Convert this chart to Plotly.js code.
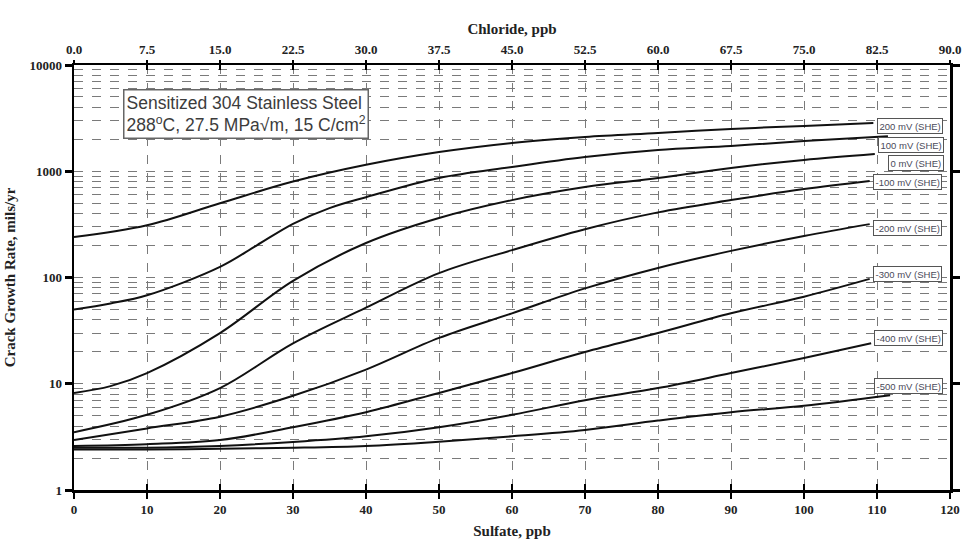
<!DOCTYPE html>
<html>
<head>
<meta charset="utf-8">
<script src="https://cdn.plot.ly/plotly-3.0.1.min.js"></script>
<style>html,body{margin:0;padding:0;background:#fff;}#chart{width:965px;height:545px;}</style>
</head>
<body>
<div id="chart"></div>
<script>
// Potentials (curve labels)
const potentials = ["200 mV (SHE)", "100 mV (SHE)", "0 mV (SHE)", "-100 mV (SHE)", "-200 mV (SHE)", "-300 mV (SHE)", "-400 mV (SHE)", "-500 mV (SHE)"];

// Sulfate (ppb) and crack growth rate (mils/yr) per curve
const sulfate_p200 = [0, 10, 20, 30, 40, 50, 60, 70, 80, 90, 100, 109.5];
const rate_p200    = [240, 310, 500, 800, 1150, 1515, 1845, 2100, 2290, 2500, 2670, 2845];

const sulfate_p100 = [0, 5, 10, 20, 25, 30, 35, 40, 50, 60, 70, 80, 90, 100, 111.5];
const rate_p100    = [50, 57, 68, 126, 200, 320, 450, 570, 864, 1097, 1360, 1585, 1730, 1927, 2140];

const sulfate_0    = [0, 5, 10, 20, 30, 40, 50, 60, 70, 80, 90, 100, 109.7];
const rate_0       = [8.2, 9.5, 12.6, 30, 93, 211, 363, 535, 710, 864, 1075, 1277, 1450];

const sulfate_m100 = [0, 10, 20, 30, 40, 50, 60, 70, 80, 90, 100, 109];
const rate_m100    = [3.5, 5.1, 9.1, 24, 52, 110, 181, 285, 410, 535, 680, 810];

const sulfate_m200 = [0, 10, 20, 30, 40, 50, 60, 70, 80, 90, 100, 109];
const rate_m200    = [2.95, 3.8, 4.9, 7.7, 13.6, 27, 46, 79, 123, 178, 246, 318];

const sulfate_m300 = [0, 10, 20, 30, 40, 50, 60, 70, 80, 90, 100, 109];
const rate_m300    = [2.6, 2.7, 2.95, 3.9, 5.4, 8.2, 12.6, 19.9, 30, 46, 66, 97];

const sulfate_m400 = [0, 10, 20, 30, 40, 50, 60, 70, 80, 90, 100, 109.2];
const rate_m400    = [2.5, 2.5, 2.6, 2.83, 3.2, 3.9, 5.1, 7.0, 9.1, 12.6, 17.5, 24];

const sulfate_m500 = [0, 10, 20, 30, 40, 50, 60, 70, 80, 90, 100, 111.8];
const rate_m500    = [2.4, 2.4, 2.45, 2.5, 2.6, 2.85, 3.2, 3.67, 4.5, 5.4, 6.2, 7.8];

// Axis ticks
const sulfateTicks = [0, 10, 20, 30, 40, 50, 60, 70, 80, 90, 100, 110, 120];
const chlorideTicks = [0, 7.5, 15, 22.5, 30, 37.5, 45, 52.5, 60, 67.5, 75, 82.5, 90];
const chlorideLabels = chlorideTicks.map(v => v.toFixed(1));
const rateTicks = [1, 10, 100, 1000, 10000];
const rateLabels = ["1", "10", "100", "1000", "10000"];
const rateMinor = [2,3,4,5,6,7,8,9,20,30,40,50,60,70,80,90,200,300,400,500,600,700,800,900,2000,3000,4000,5000,6000,7000,8000,9000];

const series = [
  [sulfate_p200, rate_p200], [sulfate_p100, rate_p100], [sulfate_0, rate_0], [sulfate_m100, rate_m100],
  [sulfate_m200, rate_m200], [sulfate_m300, rate_m300], [sulfate_m400, rate_m400], [sulfate_m500, rate_m500]
];

const traces = series.map((s, i) => ({
  x: s[0], y: s[1], type: 'scatter', mode: 'lines', name: potentials[i],
  line: {color: '#111', width: 2, shape: 'spline', smoothing: 1.0},
  xaxis: 'x', yaxis: 'y', showlegend: false, hoverinfo: 'skip'
}));
// invisible carriers so the overlay axes (top chloride axis, crossing ticks) get drawn
['x2', 'x3', 'x4'].forEach(ax => traces.push({
  x: [0], y: [1], type: 'scatter', mode: 'markers', marker: {opacity: 0, size: 1},
  xaxis: ax, yaxis: 'y', showlegend: false, hoverinfo: 'skip'
}));

// label box placement (x in sulfate units, y in log10 of rate)
const labelPos = [[114.5, 3.426], [114.7, 3.247], [115.3, 3.078], [114.2, 2.899], [114.2, 2.466], [114.2, 2.033], [114.3, 1.431], [114.3, 0.979]];

const serif = 'Liberation Serif, Times New Roman, serif';
const sans = 'Liberation Sans, Arial, sans-serif';
const gridC = '#7a7a7a';

const annotations = potentials.map((t, i) => ({
  x: labelPos[i][0], y: labelPos[i][1], xref: 'x', yref: 'y', text: t, showarrow: false,
  font: {family: sans, size: 9.5, color: '#4a4a5a'}, bgcolor: '#fff', bordercolor: '#555', borderwidth: 1, borderpad: 1.5,
  xanchor: 'center', yanchor: 'middle'
}));
annotations.push({
  x: 0.056, y: 0.944, xref: 'paper', yref: 'paper', xanchor: 'left', yanchor: 'top', showarrow: false, align: 'left',
  text: 'Sensitized 304 Stainless Steel<br>288<sup>o</sup>C, 27.5 MPa\u221Am, 15 C/cm<sup>2</sup>',
  font: {family: sans, size: 17.5, color: '#3c3c3c'}, bgcolor: '#fff', bordercolor: '#666', borderwidth: 1.5, borderpad: 2
});

const tickFont = {family: serif, size: 13, color: '#222', weight: 'bold'};
const titleFont = {family: serif, size: 15, color: '#222', weight: 'bold'};

const layout = {
  width: 965, height: 545,
  margin: {l: 74, r: 15, t: 65, b: 55},
  paper_bgcolor: '#fff', plot_bgcolor: '#fff',
  xaxis: {
    range: [0, 120], tickmode: 'array', tickvals: sulfateTicks, ticks: 'outside', ticklen: 6, tickwidth: 2.5, tickcolor: '#000',
    showline: true, linewidth: 2.5, linecolor: '#000', zeroline: false,
    showgrid: true, gridcolor: gridC, griddash: 'dash', gridwidth: 1,
    tickfont: tickFont, title: {text: 'Sulfate, ppb', font: titleFont, standoff: 10}
  },
  xaxis2: {
    overlaying: 'x', side: 'top', anchor: 'y', range: [0, 90], tickmode: 'array', tickvals: chlorideTicks, ticktext: chlorideLabels,
    ticks: 'outside', ticklen: 3, tickwidth: 1.5, tickcolor: '#000', showline: true, linewidth: 2.5, linecolor: '#000',
    showgrid: false, zeroline: false, tickfont: tickFont, title: {text: 'Chloride, ppb', font: titleFont, standoff: 4}
  },
  xaxis3: {
    overlaying: 'x', side: 'bottom', anchor: 'y', range: [0, 120], tickmode: 'array', tickvals: sulfateTicks, ticks: 'inside', ticklen: 6,
    tickwidth: 2.5, tickcolor: '#000', showticklabels: false, showgrid: false, zeroline: false, showline: false
  },
  xaxis4: {
    overlaying: 'x', side: 'top', anchor: 'y', range: [0, 90], tickmode: 'array', tickvals: chlorideTicks, ticks: 'inside', ticklen: 5,
    tickwidth: 1.5, tickcolor: '#000', showticklabels: false, showgrid: false, zeroline: false, showline: false
  },
  yaxis: {
    type: 'log', range: [0, 4], tickmode: 'array', tickvals: rateTicks, ticktext: rateLabels,
    ticks: 'outside', ticklen: 7, tickwidth: 3, tickcolor: '#000', showline: true, linewidth: 2.5, linecolor: '#000', mirror: 'ticks',
    showgrid: true, gridcolor: gridC, griddash: 'dash', gridwidth: 1, zeroline: false,
    minor: {tickmode: 'array', tickvals: rateMinor, showgrid: true, gridcolor: gridC, griddash: 'dash', gridwidth: 1, ticks: ''},
    tickfont: tickFont, title: {text: 'Crack Growth Rate, mils/yr', font: titleFont, standoff: 10}
  },
  annotations: annotations,
  showlegend: false
};

Plotly.newPlot('chart', traces, layout, {staticPlot: true, displayModeBar: false});
</script>
</body>
</html>
